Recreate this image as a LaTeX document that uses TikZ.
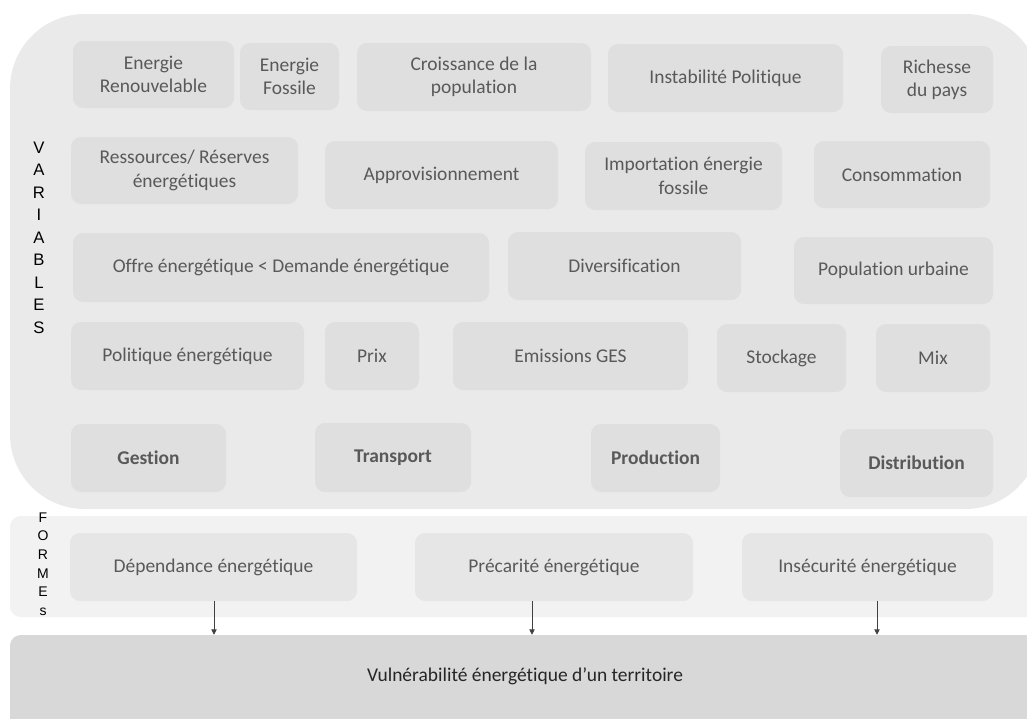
\documentclass[tikz,border=0pt]{standalone}
\usepackage{fontspec}
\setmainfont{Carlito}[Ligatures={NoCommon}]
\newfontfamily\arialf{Liberation Sans}
\usetikzlibrary{arrows.meta}
\definecolor{panelc}{HTML}{EAEAEA}
\definecolor{boxc}{HTML}{DFDFDF}
\definecolor{formc}{HTML}{F2F2F2}
\definecolor{fboxc}{HTML}{E6E6E6}
\definecolor{barc}{HTML}{D8D8D8}
\definecolor{txtc}{HTML}{595959}
\definecolor{darktxt}{HTML}{262626}
\tikzset{
  vbox/.style={fill=boxc, draw=none, rounded corners=7.5pt, align=center, text=txtc,
    font=\fontsize{14.6}{17.5}\selectfont, inner sep=0pt},
  bbox/.style={vbox, font=\fontsize{14.6}{17.5}\selectfont\bfseries},
  fbox/.style={vbox, fill=fboxc},
  arr/.style={draw=black!75, line width=0.6pt, -{Triangle[width=4pt,length=4pt]}},
  vlet/.style={font=\arialf\fontsize{12.5}{16.9}\selectfont, align=center, text=black, inner sep=0pt},
  flet/.style={font=\arialf\fontsize{10.5}{13.9}\selectfont, align=center, text=black, inner sep=0pt}
}
\newcommand\mkbox[7]{\node[#1, minimum width={(#5-#3)*0.75pt}, minimum height={(#6-#4)*0.75pt}] (#2) at ({(#3+#5)/2},{(#4+#6)/2}) {#7};}
\begin{document}
\begin{tikzpicture}[x=0.75pt,y=-0.75pt]
\useasboundingbox (0,0) rectangle (1027,718);
% panels
\path[fill=panelc, rounded corners=56pt] (10,14) rectangle (1040,509);
\path[fill=formc, rounded corners=8pt] (10,516) rectangle (1040,617);
\path[fill=barc, rounded corners=8pt] (10,635) rectangle (1040,730);
% row 1
\mkbox{vbox}{er}{73}{41}{234}{108}{Energie\\Renouvelable}
\mkbox{vbox}{ef}{240}{43}{339}{110}{Energie\\Fossile}
\mkbox{vbox}{cp}{357}{43}{591}{111}{Croissance de la\\population}
\mkbox{vbox}{ip}{608}{44}{843}{112}{Instabilité Politique}
\mkbox{vbox}{rp}{881}{46}{993}{113}{Richesse\\du pays}
% row 2
\mkbox{vbox}{rr}{71}{137}{298}{204}{Ressources/ Réserves\\énergétiques}
\mkbox{vbox}{ap}{325}{141}{558}{209}{Approvisionnement}
\mkbox{vbox}{ie}{585}{142}{782}{210}{Importation énergie\\fossile}
\mkbox{vbox}{co}{814}{141}{990}{208}{Consommation}
% row 3
\mkbox{vbox}{od}{73}{233}{489}{302}{Offre énergétique < Demande énergétique}
\mkbox{vbox}{dv}{508}{232}{741}{300}{Diversification}
\mkbox{vbox}{pu}{794}{237}{993}{304}{Population urbaine}
% row 4
\mkbox{vbox}{pe}{71}{322}{304}{390}{Politique énergétique}
\mkbox{vbox}{px}{325}{322}{419}{390}{Prix}
\mkbox{vbox}{eg}{453}{322}{688}{390}{Emissions GES}
\mkbox{vbox}{st}{717}{324}{846}{392}{Stockage}
\mkbox{vbox}{mx}{876}{324}{990}{392}{Mix}
% row 5
\mkbox{bbox}{ge}{71}{424}{226}{492}{Gestion}
\mkbox{bbox}{tr}{315}{423}{471}{492}{Transport}
\mkbox{bbox}{pr}{591}{424}{720}{492}{Production}
\mkbox{bbox}{ds}{840}{429}{993}{497}{Distribution}
% forms
\mkbox{fbox}{dep}{70}{533}{357}{601}{Dépendance énergétique}
\mkbox{fbox}{pre}{415}{533}{693}{601}{Précarité énergétique}
\mkbox{fbox}{ins}{742}{533}{993}{601}{Insécurité énergétique}
% bottom
\node[inner sep=0pt, minimum width={1017*0.75pt}, minimum height={83*0.75pt}, text=darktxt,
  font=\fontsize{14.6}{17.5}\selectfont] (vul) at (525,676.5) {Vulnérabilité énergétique d’un territoire};
% side labels
\node[vlet] (vars) at (39,237.5) {V\\A\\R\\I\\A\\B\\L\\E\\S};
\node[flet] (forms) at (43,564) {F\\O\\R\\M\\E\\s};
% arrows
\draw[arr] ([xshift=0.5*0.75pt]dep.south) -- ([xshift=0.5*0.75pt]dep.south |- vul.north);
\draw[arr] ([xshift=-22*0.75pt]pre.south) -- ([xshift=-22*0.75pt]pre.south |- vul.north);
\draw[arr] ([xshift=9.5*0.75pt]ins.south) -- ([xshift=9.5*0.75pt]ins.south |- vul.north);
\end{tikzpicture}
\end{document}
